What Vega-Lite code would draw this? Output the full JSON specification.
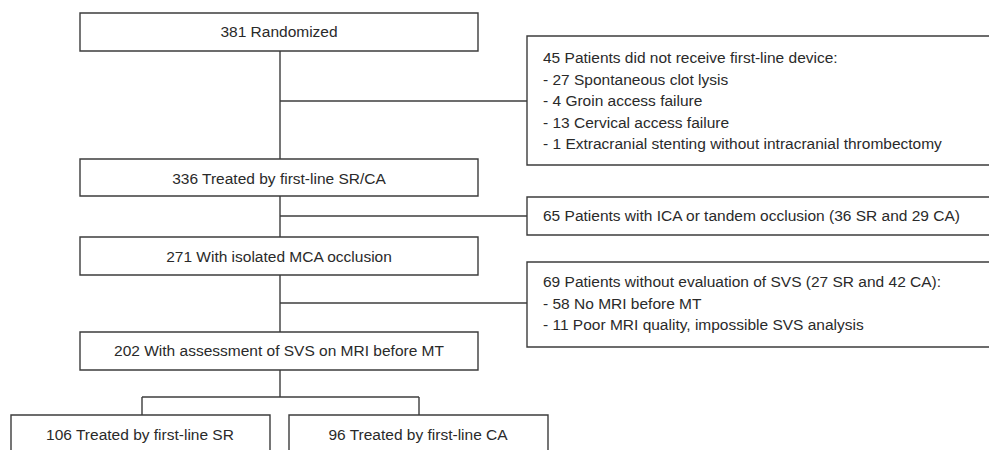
{
  "$schema": "https://vega.github.io/schema/vega-lite/v6.json",
  "width": 989,
  "height": 450,
  "autosize": {"type": "fit", "contains": "padding"},
  "padding": 0,
  "background": "white",
  "config": {"view": {"stroke": null}},
  "datasets": {
    "boxes": [
      {"x": 80, "x2": 478, "y": 13, "y2": 51},
      {"x": 80, "x2": 478, "y": 159, "y2": 196},
      {"x": 80, "x2": 478, "y": 237, "y2": 275},
      {"x": 80, "x2": 478, "y": 332, "y2": 370},
      {"x": 11, "x2": 270, "y": 415, "y2": 470},
      {"x": 289, "x2": 548, "y": 415, "y2": 470},
      {"x": 527, "x2": 1000, "y": 36, "y2": 165},
      {"x": 527, "x2": 1000, "y": 197, "y2": 235},
      {"x": 527, "x2": 1000, "y": 262, "y2": 347}
    ],
    "links": [
      {"x": 280, "x2": 280, "y": 51, "y2": 159},
      {"x": 280, "x2": 527, "y": 101, "y2": 101},
      {"x": 280, "x2": 280, "y": 196, "y2": 237},
      {"x": 280, "x2": 527, "y": 216, "y2": 216},
      {"x": 280, "x2": 280, "y": 275, "y2": 332},
      {"x": 280, "x2": 527, "y": 303, "y2": 303},
      {"x": 280, "x2": 280, "y": 370, "y2": 397},
      {"x": 142, "x2": 419, "y": 397, "y2": 397},
      {"x": 142, "x2": 142, "y": 397, "y2": 415},
      {"x": 419, "x2": 419, "y": 397, "y2": 415}
    ],
    "centerLabels": [
      {"x": 279, "y": 32, "label": "381 Randomized"},
      {"x": 279, "y": 178.5, "label": "336 Treated by first-line SR/CA"},
      {"x": 279, "y": 257, "label": "271 With isolated MCA occlusion"},
      {"x": 279, "y": 351, "label": "202 With assessment of SVS on MRI before MT"},
      {"x": 140, "y": 435, "label": "106 Treated by first-line SR"},
      {"x": 418, "y": 435, "label": "96 Treated by first-line CA"}
    ],
    "sideLabels": [
      {"x": 543, "y": 58, "label": "45 Patients did not receive first-line device:"},
      {"x": 543, "y": 79.5, "label": "- 27 Spontaneous clot lysis"},
      {"x": 543, "y": 101, "label": "- 4 Groin access failure"},
      {"x": 543, "y": 122.5, "label": "- 13 Cervical access failure"},
      {"x": 543, "y": 144, "label": "- 1 Extracranial stenting without intracranial thrombectomy"},
      {"x": 543, "y": 216, "label": "65 Patients with ICA or tandem occlusion (36 SR and 29 CA)"},
      {"x": 543, "y": 282, "label": "69 Patients without evaluation of SVS (27 SR and 42 CA):"},
      {"x": 543, "y": 303.5, "label": "- 58 No MRI before MT"},
      {"x": 543, "y": 325, "label": "- 11 Poor MRI quality, impossible SVS analysis"}
    ]
  },
  "layer": [
    {
      "data": {"name": "boxes"},
      "mark": {"type": "rect", "fill": "white", "stroke": "#3c3c3c", "strokeWidth": 1.4, "clip": true},
      "encoding": {
        "x": {"field": "x", "type": "quantitative", "scale": {"domain": [0, 989], "nice": false, "zero": false}, "axis": null},
        "x2": {"field": "x2"},
        "y": {"field": "y", "type": "quantitative", "scale": {"domain": [0, 450], "nice": false, "zero": false, "reverse": true}, "axis": null},
        "y2": {"field": "y2"}
      }
    },
    {
      "data": {"name": "links"},
      "mark": {"type": "rule", "stroke": "#3c3c3c", "strokeWidth": 1.4},
      "encoding": {
        "x": {"field": "x", "type": "quantitative"},
        "x2": {"field": "x2"},
        "y": {"field": "y", "type": "quantitative"},
        "y2": {"field": "y2"}
      }
    },
    {
      "data": {"name": "centerLabels"},
      "mark": {"type": "text", "align": "center", "baseline": "middle", "font": "Liberation Sans", "fontSize": 15.5, "fill": "#2a2a2a"},
      "encoding": {
        "x": {"field": "x", "type": "quantitative"},
        "y": {"field": "y", "type": "quantitative"},
        "text": {"field": "label"}
      }
    },
    {
      "data": {"name": "sideLabels"},
      "mark": {"type": "text", "align": "left", "baseline": "middle", "font": "Liberation Sans", "fontSize": 15.5, "fill": "#2a2a2a"},
      "encoding": {
        "x": {"field": "x", "type": "quantitative"},
        "y": {"field": "y", "type": "quantitative"},
        "text": {"field": "label"}
      }
    }
  ]
}
